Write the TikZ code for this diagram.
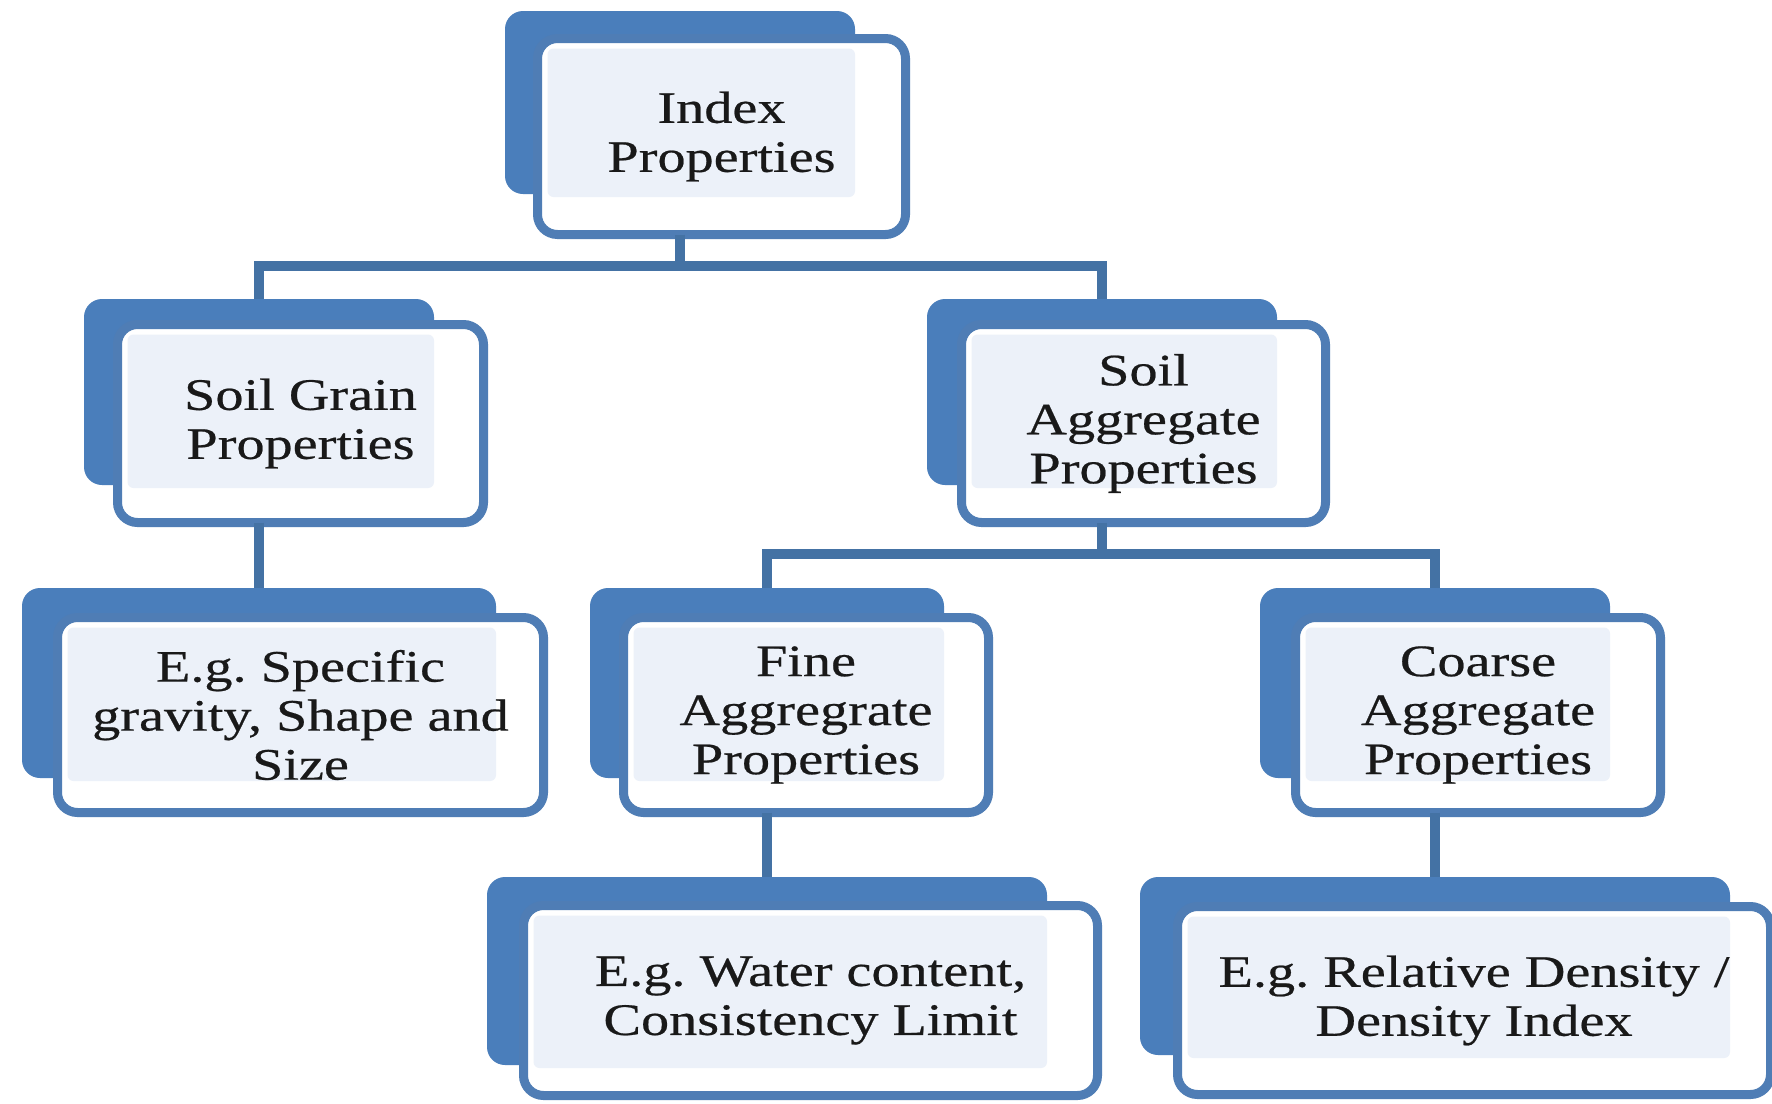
\documentclass[tikz,border=0pt]{standalone}
\usepackage{fontspec}
\setmainfont{Liberation Serif}[FakeStretch=1.25,FakeBold=0.5]
\usetikzlibrary{calc}
\frenchspacing
\definecolor{backblue}{RGB}{74,126,187}
\definecolor{edgeblue}{RGB}{79,125,181}
\definecolor{connblue}{RGB}{68,114,164}
\definecolor{lightfill}{RGB}{236,241,249}
\definecolor{inktext}{RGB}{25,25,25}
\tikzset{
  backbox/.style={fill=backblue, rounded corners=18pt, inner sep=0pt, outer sep=0pt},
  frontbox/.style={draw=edgeblue, line width=9pt, fill=white, rounded corners=20pt,
    inner sep=0pt, outer sep=0pt, align=center, text=inktext,
    font=\fontsize{45}{49}\selectfont\frenchspacing},
  conn/.style={draw=connblue, line width=10pt},
  lightpanel/.style={path picture={\fill[lightfill, rounded corners=6pt]
    ([shift={(10pt,-10pt)}]path picture bounding box.north west) rectangle ([shift={(0pt,-3pt)}]#1.south east);}},
}
\begin{document}
\begin{tikzpicture}[x=1pt,y=-1pt]
\useasboundingbox (0,0) rectangle (1772,1103);
\fill[white] (0,0) rectangle (1772,1103);

% Index Properties
\node[backbox, minimum width=350pt, minimum height=183pt] (idxb) at (680,102.5) {};
\node[frontbox, minimum width=368pt, minimum height=196pt, lightpanel=idxb] (idx) at (721.5,136.5) {Index\\Properties};

% Soil Grain Properties
\node[backbox, minimum width=350pt, minimum height=186pt] (grainb) at (259,392) {};
\node[frontbox, minimum width=366pt, minimum height=198pt, lightpanel=grainb] (grain) at (300.5,423.5) {Soil Grain\\Properties};

% Soil Aggregate Properties
\node[backbox, minimum width=350pt, minimum height=186pt] (aggrb) at (1102,392) {};
\node[frontbox, minimum width=364pt, minimum height=198pt, lightpanel=aggrb] (aggr) at (1143.5,423.5) {Soil\\Aggregate\\Properties};

% E.g. Specific gravity
\node[backbox, minimum width=474pt, minimum height=190pt] (specb) at (259,683) {};
\node[frontbox, minimum width=486pt, minimum height=195pt, lightpanel=specb] (spec) at (300.5,715) {E.g. Specific\\gravity, Shape and\\Size};

% Fine Aggregrate Properties
\node[backbox, minimum width=354pt, minimum height=190pt] (fineb) at (767,683) {};
\node[frontbox, minimum width=365pt, minimum height=195pt, lightpanel=fineb] (fine) at (806,715) {Fine\\Aggregrate\\Properties};

% Coarse Aggregate Properties
\node[backbox, minimum width=350pt, minimum height=190pt] (coarseb) at (1435,683) {};
\node[frontbox, minimum width=365pt, minimum height=195pt, lightpanel=coarseb] (coarse) at (1478,715) {Coarse\\Aggregate\\Properties};

% E.g. Water content
\node[backbox, minimum width=560pt, minimum height=188pt] (waterb) at (767,971) {};
\node[frontbox, minimum width=574pt, minimum height=190pt, lightpanel=waterb] (water) at (810.5,1000.5) {E.g. Water content,\\Consistency Limit};

% E.g. Relative Density
\node[backbox, minimum width=590pt, minimum height=178pt] (relb) at (1435,966) {};
\node[frontbox, minimum width=593pt, minimum height=188pt, lightpanel=relb] (rel) at (1474,1000.5) {E.g. Relative Density /\\Density Index};

% connectors
\coordinate (j1) at (680,266);
\coordinate (j2) at (1102,554);
\draw[conn] (idxb.center |- idx.south) -- (j1);
\draw[conn] (grainb.north) |- (j1) -| (aggrb.north);
\draw[conn] (aggrb.center |- aggr.south) -- (j2);
\draw[conn] (fineb.north) |- (j2) -| (coarseb.north);
\draw[conn] (grainb.center |- grain.south) -- (specb.north);
\draw[conn] (fineb.center |- fine.south) -- (waterb.north);
\draw[conn] (coarseb.center |- coarse.south) -- (relb.north);
\end{tikzpicture}
\end{document}
